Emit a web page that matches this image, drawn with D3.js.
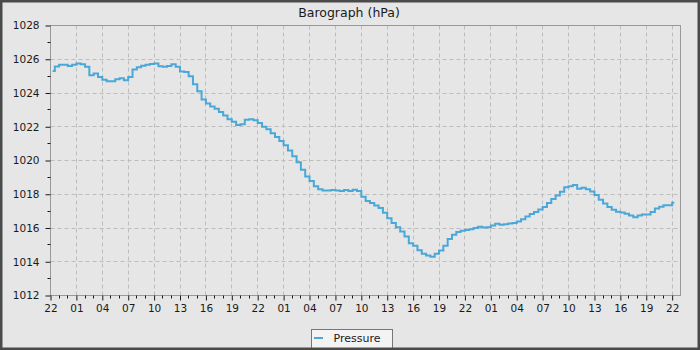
<!DOCTYPE html>
<html>
<head>
<meta charset="utf-8">
<script src="https://cdn.jsdelivr.net/npm/d3@7"></script>
<style>
  html, body { margin: 0; padding: 0; background: #e6e6e6; }
  svg { display: block; }
  text { font-family: "DejaVu Sans", sans-serif; fill: #1a1a1a; }
</style>
</head>
<body>
<svg id="chart" width="700" height="350"></svg>
<script>
// ---- data ----
const chartTitle = "Barograph (hPa)";
const seriesName = "Pressure";
const axisStart = "2024-01-01T22:00:00Z";
const axisEnd = "2024-01-04T22:58:00Z";
const firstSample = "2024-01-01T22:15:00Z";
const sampleStepMinutes = 30;
const pressure = [
  1025.3, 1025.57, 1025.67, 1025.67, 1025.6, 1025.67, 1025.75, 1025.7, 1025.55, 1025.05,
  1025.15, 1024.95, 1024.78, 1024.7, 1024.7, 1024.82, 1024.88, 1024.75, 1024.95, 1025.4,
  1025.52, 1025.62, 1025.68, 1025.72, 1025.75, 1025.58, 1025.55, 1025.6, 1025.7, 1025.55,
  1025.27, 1025.24, 1025.0, 1024.52, 1024.1, 1023.62, 1023.38, 1023.2, 1023.06, 1022.88,
  1022.66, 1022.44, 1022.3, 1022.1, 1022.15, 1022.42, 1022.45, 1022.38, 1022.22, 1022.0,
  1021.85, 1021.62, 1021.39, 1021.16, 1020.9, 1020.6, 1020.25, 1019.9, 1019.45, 1019.05,
  1018.78, 1018.48, 1018.3, 1018.22, 1018.22, 1018.25, 1018.22, 1018.2, 1018.25, 1018.2,
  1018.26, 1018.2, 1017.85, 1017.6, 1017.48, 1017.33, 1017.18, 1016.9, 1016.58, 1016.3,
  1016.05, 1015.8, 1015.5, 1015.1, 1014.95, 1014.68, 1014.48, 1014.37, 1014.3, 1014.48,
  1014.67, 1014.95, 1015.35, 1015.6, 1015.76, 1015.83, 1015.88, 1015.92, 1016.0, 1016.08,
  1016.03, 1016.05, 1016.15, 1016.25, 1016.19, 1016.22, 1016.27, 1016.3, 1016.38, 1016.52,
  1016.68, 1016.83, 1016.95, 1017.1, 1017.25, 1017.48, 1017.72, 1017.93, 1018.15, 1018.42,
  1018.48, 1018.55, 1018.32, 1018.38, 1018.3, 1018.16, 1017.95, 1017.68, 1017.45, 1017.24,
  1017.08, 1016.97, 1016.92, 1016.84, 1016.74, 1016.64, 1016.74, 1016.8, 1016.8, 1016.95,
  1017.15, 1017.26, 1017.35, 1017.35, 1017.5
];
const yMin = 1012, yMax = 1028;
const yMajorStep = 2, yMinorStep = 1;
const xMajorHours = 3, xMinorHours = 1;

// ---- layout ----
const W = 700, H = 350;
const plot = { left: 50.5, right: 680.5, top: 25.5, bottom: 295.5 };
const lineColor = "#4aa8d8";

const svg = d3.select("#chart");
svg.append("rect").attr("x", 0).attr("y", 0).attr("width", W).attr("height", H).attr("fill", "#e6e6e6");

const t0 = new Date(firstSample);
const data = pressure.map((v, i) => ({ t: d3.utcMinute.offset(t0, i * sampleStepMinutes), v }));

const xStart = new Date(axisStart), xEnd = new Date(axisEnd);
const x = d3.scaleUtc().domain([xStart, xEnd]).range([plot.left, plot.right]);
const y = d3.scaleLinear().domain([yMin, yMax]).range([plot.bottom, plot.top]);

const majorX = d3.utcHour.range(xStart, d3.utcMinute.offset(xEnd, 1), xMajorHours);
const minorX = d3.utcHour.range(xStart, d3.utcMinute.offset(xEnd, 1), xMinorHours)
  .filter(d => !majorX.some(m => +m === +d));
const majorY = d3.range(yMin, yMax + 0.001, yMajorStep);
const minorY = d3.range(yMin, yMax + 0.001, yMinorStep).filter(v => v % yMajorStep !== 0);

// grid
const grid = svg.append("g").attr("stroke", "#bdbdbd").attr("stroke-width", 1).attr("stroke-dasharray", "4,3");
grid.selectAll("line.gx").data(majorX.filter(d => x(d) > plot.left + 1 && x(d) < plot.right - 1)).join("line")
  .attr("x1", d => Math.floor(x(d)) + 0.5).attr("x2", d => Math.floor(x(d)) + 0.5)
  .attr("y1", plot.top).attr("y2", plot.bottom);
grid.selectAll("line.gy").data(majorY.filter(v => v > yMin && v < yMax)).join("line")
  .attr("y1", d => Math.floor(y(d)) + 0.5).attr("y2", d => Math.floor(y(d)) + 0.5)
  .attr("x1", plot.left).attr("x2", plot.right);

// frame
svg.append("rect").attr("x", plot.left).attr("y", plot.top)
  .attr("width", plot.right - plot.left).attr("height", plot.bottom - plot.top)
  .attr("fill", "none").attr("stroke", "#999").attr("stroke-width", 1);

// y axis
const yAxis = svg.append("g").attr("transform", `translate(${plot.left},0)`)
  .call(d3.axisLeft(y).tickValues(majorY).tickSize(5).tickPadding(6).tickFormat(d3.format("d")));
yAxis.select(".domain").remove();
yAxis.selectAll(".tick line").attr("stroke", "#1a1a1a");
yAxis.selectAll(".tick text").attr("font-size", "10.5px").attr("font-family", "DejaVu Sans").attr("fill", "#1a1a1a");
svg.append("g").selectAll("line").data(minorY).join("line")
  .attr("x1", plot.left - 3).attr("x2", plot.left)
  .attr("y1", d => Math.floor(y(d)) + 0.5).attr("y2", d => Math.floor(y(d)) + 0.5)
  .attr("stroke", "#1a1a1a");

// x axis
const xAxis = svg.append("g").attr("transform", `translate(0,${plot.bottom})`)
  .call(d3.axisBottom(x).tickValues(majorX).tickSize(5).tickPadding(4).tickFormat(d3.utcFormat("%H")));
xAxis.select(".domain").remove();
xAxis.selectAll(".tick line").attr("stroke", "#1a1a1a");
xAxis.selectAll(".tick text").attr("font-size", "10.5px").attr("font-family", "DejaVu Sans").attr("fill", "#1a1a1a");
svg.append("g").selectAll("line").data(minorX).join("line")
  .attr("y1", plot.bottom).attr("y2", plot.bottom + 3)
  .attr("x1", d => Math.floor(x(d)) + 0.5).attr("x2", d => Math.floor(x(d)) + 0.5)
  .attr("stroke", "#1a1a1a");

// line
svg.append("path").datum(data)
  .attr("fill", "none").attr("stroke", lineColor).attr("stroke-width", 2)
  .attr("d", d3.line().x(d => x(d.t)).y(d => y(d.v)).curve(d3.curveStep));

// title
svg.append("text").attr("x", 349).attr("y", 16.5).attr("text-anchor", "middle")
  .attr("font-size", "12.5px").text(chartTitle);

// legend
const lg = svg.append("g");
lg.append("rect").attr("x", 311.5).attr("y", 329.5).attr("width", 81).attr("height", 20)
  .attr("fill", "#f3f3f3").attr("stroke", "#777");
lg.append("line").attr("x1", 314).attr("x2", 323).attr("y1", 338).attr("y2", 338)
  .attr("stroke", lineColor).attr("stroke-width", 2);
lg.append("text").attr("x", 333.5).attr("y", 341.5).attr("font-size", "11px").text(seriesName);

// outer border
svg.append("rect").attr("x", 1.25).attr("y", 1.25).attr("width", W - 2.5).attr("height", H - 2.5)
  .attr("fill", "none").attr("stroke", "#4a4a4a").attr("stroke-width", 2.5);
</script>
</body>
</html>
